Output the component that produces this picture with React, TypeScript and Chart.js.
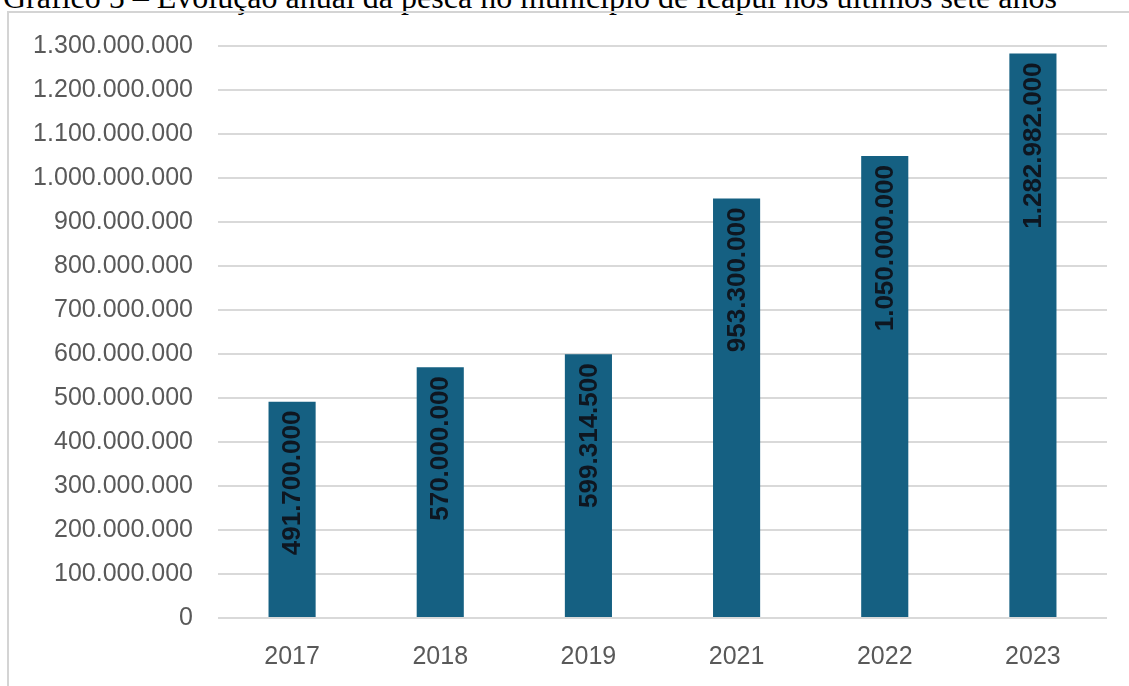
import React, { useEffect, useRef } from "react";
import { Chart, registerables } from "chart.js";

Chart.register(...registerables);

const TITLE = "Gráfico 5 – Evolução anual da pesca no município de Icapuí nos últimos sete anos";
const categories = ["2017", "2018", "2019", "2021", "2022", "2023"];
const values = [491700000, 570000000, 599314500, 953300000, 1050000000, 1282982000];
const Y_MAX = 1300000000;
const Y_STEP = 100000000;

function fmt(n: number): string {
  const s = Math.round(n).toString();
  return s.replace(/\B(?=(\d{3})+(?!\d))/g, ".");
}

const barLabelPlugin = {
  id: "barLabels",
  afterDatasetsDraw(chart: any) {
    const ctx = chart.ctx;
    const meta = chart.getDatasetMeta(0);
    ctx.save();
    ctx.font = "bold 26px 'Liberation Sans', Arial, sans-serif";
    ctx.fillStyle = "#0e1620";
    ctx.textAlign = "right";
    ctx.textBaseline = "middle";
    meta.data.forEach((bar: any, i: number) => {
      ctx.save();
      ctx.translate(bar.x + 1, bar.y + 9);
      ctx.rotate(-Math.PI / 2);
      ctx.fillText(fmt(values[i]), 0, 0);
      ctx.restore();
    });
    ctx.restore();
  },
};

export default function App() {
  const ref = useRef<HTMLCanvasElement>(null);
  useEffect(() => {
    if (!ref.current) return;
    const chart = new Chart(ref.current, {
      type: "bar",
      data: {
        labels: categories,
        datasets: [
          {
            data: values,
            backgroundColor: "#156082",
            borderWidth: 0,
            barPercentage: 1,
            categoryPercentage: 0.318,
          },
        ],
      },
      options: {
        animation: false,
        responsive: false,
        devicePixelRatio: 1,
        layout: { padding: { left: 0, right: 22, top: 46, bottom: 0 } },
        plugins: { legend: { display: false }, tooltip: { enabled: false } },
        scales: {
          x: {
            grid: { display: false, drawTicks: false },
            border: { display: false },
            ticks: {
              color: "#595959",
              font: { family: "'Liberation Sans', Arial, sans-serif", size: 25 },
              padding: 24,
            },
            afterFit: (s: any) => {
              s.height = 68;
            },
          },
          y: {
            min: 0,
            max: Y_MAX,
            grid: { color: "#d9d9d9", lineWidth: 2, drawTicks: false },
            border: { display: false },
            ticks: {
              stepSize: Y_STEP,
              color: "#595959",
              font: { family: "'Liberation Sans', Arial, sans-serif", size: 25 },
              padding: 25,
              callback: (v: any) => fmt(Number(v)),
            },
            afterFit: (s: any) => {
              s.width = 218;
            },
          },
        },
      },
      plugins: [barLabelPlugin],
    });
    return () => chart.destroy();
  }, []);

  return (
    <div
      style={{
        position: "fixed",
        left: 0,
        top: 0,
        width: 1129,
        height: 686,
        overflow: "hidden",
        background: "#ffffff",
      }}
    >
      <div
        style={{
          position: "absolute",
          left: 3,
          top: -19,
          fontFamily: "'Liberation Serif', 'Times New Roman', serif",
          fontSize: 32,
          lineHeight: "32px",
          color: "#000",
          whiteSpace: "nowrap",
        }}
      >
        {TITLE}
      </div>
      <div
        style={{
          position: "absolute",
          left: 7,
          top: 11,
          width: 1140,
          height: 700,
          borderLeft: "2px solid #d4d4d4",
          borderTop: "2px solid #d4d4d4",
          boxSizing: "border-box",
        }}
      />
      <canvas
        ref={ref}
        width={1129}
        height={686}
        style={{ position: "absolute", left: 0, top: 0, width: 1129, height: 686 }}
      />
    </div>
  );
}
